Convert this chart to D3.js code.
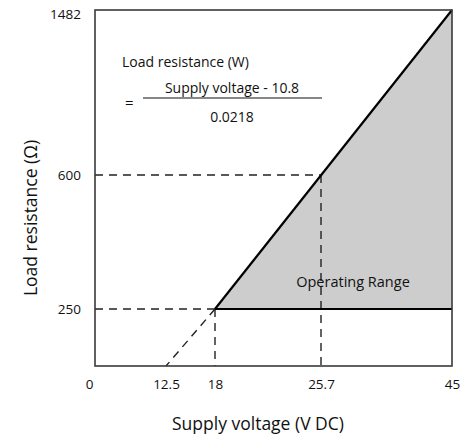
<!DOCTYPE html>
<html>
<head>
<meta charset="utf-8">
<script src="https://cdn.jsdelivr.net/npm/d3@7"></script>
<style>
  body { margin: 0; background: #fff; }
  svg text { font-family: "Open Sans", "DejaVu Sans", sans-serif; fill: #111; }
</style>
</head>
<body>
<svg id="chart" width="460" height="437"></svg>
<script>
// data
let xTicks = [0, 12.5, 18, 25.7, 45]
let yTicks = [250, 600, 1482]
let minLoad = 250
let maxVoltage = 45
let startVoltage = 18
let maxLoad = 1482
let refVoltage = 25.7
let refLoad = 600
let zeroVoltage = 12.5
let formulaLines = ["Load resistance (W)", "Supply voltage - 10.8", "0.0218"]

let svg = d3.select('#chart')

// the original is a schematic, scales are piecewise
let x = d3.scaleLinear().domain(xTicks).range([95, 166, 215, 321, 452])
let y = d3.scaleLinear().domain([0, 250, 600, 1482]).range([366, 309, 175, 10])

let chart = svg.append('g')

// OPERATING RANGE AREA
let rangePts = [[startVoltage, minLoad], [maxVoltage, maxLoad], [maxVoltage, minLoad]]
chart.append('path')
    .attr('d', d3.line().x(d => x(d[0])).y(d => y(d[1]))(rangePts) + 'Z')
    .attr('fill', '#cdcdcd')

// DASHED GUIDES
let guides = [
    [[0, refLoad], [refVoltage, refLoad]],
    [[0, minLoad], [startVoltage, minLoad]],
    [[startVoltage, minLoad], [startVoltage, 0]],
    [[refVoltage, refLoad], [refVoltage, 0]],
    [[startVoltage, minLoad], [zeroVoltage, 0]]
]
chart.selectAll('.guide')
    .data(guides)
    .enter()
    .append('path')
    .classed('guide', true)
    .attr('d', d3.line().x(d => x(d[0])).y(d => y(d[1])))
    .attr('fill', 'none')
    .attr('stroke', '#222')
    .attr('stroke-width', 1.4)
    .attr('stroke-dasharray', '8,6')

// BOUNDARY LINES
chart.append('path')
    .attr('d', d3.line().x(d => x(d[0])).y(d => y(d[1]))([[startVoltage, minLoad], [maxVoltage, maxLoad]]))
    .attr('fill', 'none')
    .attr('stroke', '#000')
    .attr('stroke-width', 2.2)
chart.append('path')
    .attr('d', d3.line().x(d => x(d[0])).y(d => y(d[1]))([[startVoltage, minLoad], [maxVoltage, minLoad]]))
    .attr('fill', 'none')
    .attr('stroke', '#000')
    .attr('stroke-width', 2.2)

// FRAME
chart.append('rect')
    .attr('x', x(0))
    .attr('y', y(maxLoad))
    .attr('width', x(maxVoltage) - x(0))
    .attr('height', y(0) - y(maxLoad))
    .attr('fill', 'none')
    .attr('stroke', '#3a3a3a')
    .attr('stroke-width', 1.6)

// X AXIS
let xAxis = chart.append('g')
    .attr('transform', `translate(0, ${y(0)})`)
    .call(d3.axisBottom(x).tickValues(xTicks).tickSize(0).tickPadding(13).tickFormat(d => d))
xAxis.select('.domain').remove()
xAxis.selectAll('text')
    .attr('font-size', 13.5)
    .attr('dx', d => d === 0 ? -6 : 0)

// Y AXIS
let yAxis = chart.append('g')
    .attr('transform', `translate(${x(0)}, 0)`)
    .call(d3.axisLeft(y).tickValues(yTicks).tickSize(0).tickPadding(14).tickFormat(d => d))
yAxis.select('.domain').remove()
yAxis.selectAll('text')
    .attr('font-size', 13.5)
    .attr('dy', d => d === maxLoad ? '0.65em' : '0.32em')

// AXIS TITLES
svg.append('text')
    .attr('x', 258)
    .attr('y', 430)
    .attr('text-anchor', 'middle')
    .attr('font-size', 17.5)
    .text("Supply voltage (V DC)")

svg.append('text')
    .attr('transform', `translate(37, 218) rotate(-90)`)
    .attr('text-anchor', 'middle')
    .attr('font-size', 17.5)
    .text("Load resistance (Ω)")

// FORMULA
svg.append('text')
    .attr('x', 122)
    .attr('y', 67)
    .attr('font-size', 14)
    .text(formulaLines[0])
svg.append('text')
    .attr('x', 125)
    .attr('y', 108)
    .attr('font-size', 15)
    .text("=")
svg.append('line')
    .attr('x1', 143).attr('x2', 322)
    .attr('y1', 98).attr('y2', 98)
    .attr('stroke', '#111')
    .attr('stroke-width', 1.2)
svg.append('text')
    .attr('x', 232)
    .attr('y', 93)
    .attr('text-anchor', 'middle')
    .attr('font-size', 14)
    .text(formulaLines[1])
svg.append('text')
    .attr('x', 232)
    .attr('y', 122)
    .attr('text-anchor', 'middle')
    .attr('font-size', 14)
    .text(formulaLines[2])

// LABEL
svg.append('text')
    .attr('x', 353)
    .attr('y', 287)
    .attr('text-anchor', 'middle')
    .attr('font-size', 14.5)
    .text("Operating Range")
</script>
</body>
</html>
